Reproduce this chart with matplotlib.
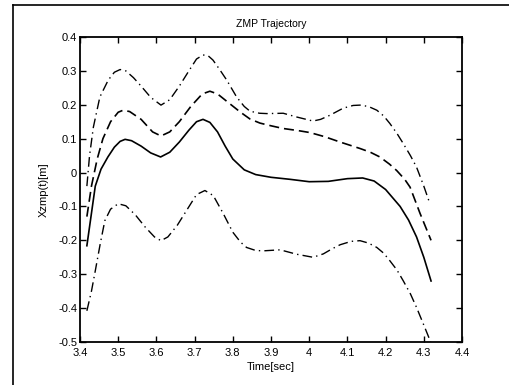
import matplotlib
matplotlib.use('Agg')
import matplotlib.pyplot as plt
from matplotlib.lines import Line2D

# readings
t_solid = [3.418, 3.43, 3.44, 3.455, 3.473, 3.49, 3.505, 3.518, 3.535, 3.56, 3.585, 3.611,
           3.635, 3.66, 3.685, 3.705, 3.722, 3.74, 3.76, 3.78, 3.80, 3.83, 3.86, 3.90,
           3.95, 4.0, 4.05, 4.10, 4.14, 4.17, 4.20, 4.238, 4.26, 4.281, 4.30, 4.319]
x_solid = [-0.216, -0.12, -0.04, 0.01, 0.046, 0.075, 0.092, 0.098, 0.094, 0.078, 0.058, 0.046,
           0.06, 0.09, 0.125, 0.15, 0.157, 0.148, 0.12, 0.078, 0.04, 0.008, -0.006, -0.014,
           -0.02, -0.027, -0.026, -0.018, -0.016, -0.025, -0.05, -0.10, -0.14, -0.19, -0.25, -0.32]

t_dash = [3.418, 3.43, 3.445, 3.46, 3.48, 3.50, 3.513, 3.53, 3.56, 3.59, 3.612, 3.635,
          3.66, 3.69, 3.72, 3.74, 3.76, 3.79, 3.819, 3.845, 3.871, 3.90, 3.932, 3.97,
          4.002, 4.04, 4.081, 4.133, 4.16, 4.185, 4.21, 4.229, 4.25, 4.264, 4.29, 4.319]
x_dash = [-0.13, -0.04, 0.04, 0.10, 0.15, 0.178, 0.184, 0.18, 0.157, 0.12, 0.108, 0.12,
          0.15, 0.195, 0.232, 0.240, 0.232, 0.205, 0.179, 0.158, 0.146, 0.138, 0.130, 0.124,
          0.118, 0.106, 0.09, 0.071, 0.06, 0.046, 0.025, 0.006, -0.02, -0.043, -0.12, -0.20]

t_up = [3.418, 3.425, 3.435, 3.452, 3.474, 3.49, 3.505, 3.52, 3.54, 3.56, 3.585, 3.612,
        3.635, 3.66, 3.685, 3.705, 3.722, 3.735, 3.748, 3.765, 3.784, 3.81, 3.83, 3.845,
        3.87, 3.889, 3.932, 3.967, 4.010, 4.03, 4.054, 4.089, 4.115, 4.133, 4.155, 4.177,
        4.195, 4.211, 4.23, 4.246, 4.265, 4.281, 4.30, 4.316]
x_up = [-0.04, 0.05, 0.134, 0.223, 0.273, 0.296, 0.304, 0.30, 0.28, 0.255, 0.222, 0.199,
        0.215, 0.255, 0.30, 0.335, 0.347, 0.345, 0.332, 0.305, 0.273, 0.223, 0.195, 0.181,
        0.175, 0.174, 0.175, 0.164, 0.152, 0.157, 0.169, 0.19, 0.198, 0.199, 0.195, 0.184,
        0.167, 0.145, 0.115, 0.086, 0.05, 0.016, -0.04, -0.092]

t_low = [3.418, 3.43, 3.44, 3.453, 3.465, 3.48, 3.50, 3.52, 3.545, 3.57, 3.595, 3.612,
         3.63, 3.655, 3.68, 3.705, 3.727, 3.749, 3.775, 3.80, 3.82, 3.836, 3.86, 3.88,
         3.924, 3.967, 4.01, 4.037, 4.06, 4.081, 4.11, 4.133, 4.155, 4.177, 4.195, 4.211,
         4.23, 4.246, 4.265, 4.281, 4.30, 4.318]
x_low = [-0.408, -0.35, -0.29, -0.21, -0.142, -0.108, -0.092, -0.098, -0.125, -0.16, -0.19, -0.201,
         -0.19, -0.155, -0.11, -0.065, -0.053, -0.068, -0.121, -0.176, -0.205, -0.221, -0.23, -0.231,
         -0.228, -0.241, -0.25, -0.24, -0.225, -0.213, -0.203, -0.201, -0.208, -0.221, -0.238, -0.26,
         -0.288, -0.319, -0.358, -0.398, -0.45, -0.5]

xticks = [3.4, 3.5, 3.6, 3.7, 3.8, 3.9, 4.0, 4.1, 4.2, 4.3, 4.4]
xtick_labels = ['3.4', '3.5', '3.6', '3.7', '3.8', '3.9', '4', '4.1', '4.2', '4.3', '4.4']
yticks = [-0.5, -0.4, -0.3, -0.2, -0.1, 0, 0.1, 0.2, 0.3, 0.4]
ytick_labels = ['-0.5', '-0.4', '-0.3', '-0.2', '-0.1', '0', '0.1', '0.2', '0.3', '0.4']

plt.rcParams['font.family'] = ['Liberation Sans', 'DejaVu Sans']

fig = plt.figure(figsize=(5.1, 3.85), dpi=100)
ax = fig.add_axes([80 / 510, 1 - 342 / 385, 382 / 510, 305 / 385])

ax.plot(t_solid, x_solid, color='black', lw=1.2, ls='-')
ax.plot(t_dash, x_dash, color='black', lw=1.2, ls=(0, (6, 3)))
ax.plot(t_up, x_up, color='black', lw=1.0, ls=(0, (7, 3, 1, 3)))
ax.plot(t_low, x_low, color='black', lw=1.0, ls=(0, (7, 3, 1, 3)))

ax.set_xlim(3.4, 4.4)
ax.set_ylim(-0.5, 0.4)
ax.set_xticks(xticks)
ax.set_xticklabels(xtick_labels)
ax.set_yticks(yticks)
ax.set_yticklabels(ytick_labels)
ax.tick_params(direction='in', length=4, width=1, top=True, right=True,
               labelsize=8, pad=2)
ax.tick_params(axis='x', pad=4)
for s in ax.spines.values():
    s.set_linewidth(1.3)

ax.set_title('ZMP Trajectory', fontsize=7.5, pad=7)
ax.set_xlabel('Time[sec]', fontsize=8, labelpad=3)
ax.set_ylabel('Xzmp(t)[m]', fontsize=8, labelpad=7)

# outer frame (left and top only, as in the scan)
fig.add_artist(Line2D([13 / 510, 13 / 510], [0, 1 - 5 / 385], color='black', lw=1.2))
fig.add_artist(Line2D([13 / 510, 1], [1 - 5 / 385, 1 - 5 / 385], color='black', lw=1.2))

fig.savefig('out.png', dpi=100)
